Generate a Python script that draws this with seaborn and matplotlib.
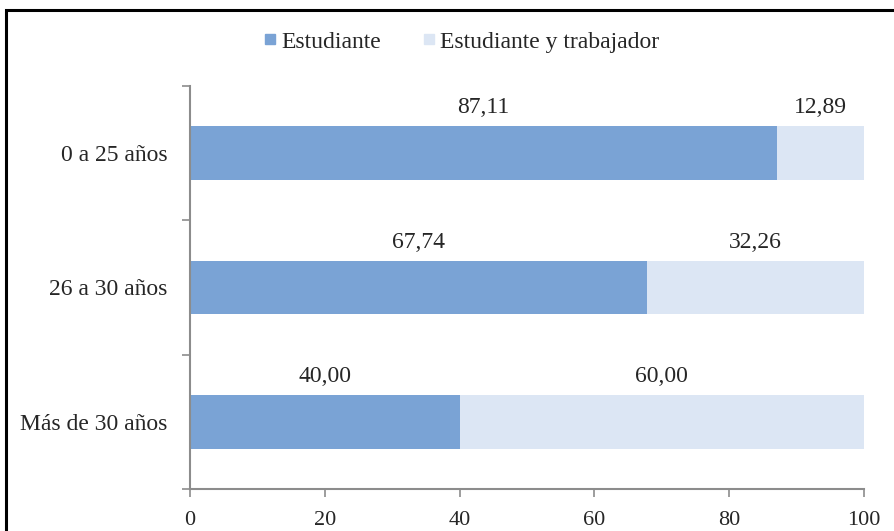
import numpy as np
import pandas as pd
import matplotlib
matplotlib.use('Agg')
import matplotlib.pyplot as plt
import seaborn as sns
from matplotlib.patches import Rectangle
from matplotlib.lines import Line2D

# data
grupos = ['0 a 25 años', '26 a 30 años', 'Más de 30 años']
estudiante = [87.11, 67.74, 40.00]
estudiante_trabajador = [12.89, 32.26, 60.00]

c_est = '#7aa3d5'
c_trab = '#dce6f4'

sns.set_style('white')
plt.rcParams['font.family'] = ['Liberation Serif', 'DejaVu Serif']
fs = 17

df = pd.DataFrame({'grupo': grupos, 'est': estudiante, 'trab': estudiante_trabajador})
df['total'] = df['est'] + df['trab']

fig = plt.figure(figsize=(8.95, 5.31), dpi=100)
ax = fig.add_axes([190 / 895, 1 - 489 / 531, 674 / 895, 403 / 531])

# stacked: total first (light), then student part on top
sns.barplot(data=df, x='total', y='grupo', orient='h', color=c_trab, width=0.4,
            saturation=1, ax=ax, linewidth=0)
sns.barplot(data=df, x='est', y='grupo', orient='h', color=c_est, width=0.4,
            saturation=1, ax=ax, linewidth=0)

# value labels above each segment
for i, (a, b) in enumerate(zip(estudiante, estudiante_trabajador)):
    ax.text(a / 2, i - 0.26, f'{a:.2f}'.replace('.', ','), ha='center', va='bottom', fontsize=fs)
    ax.text(a + b / 2, i - 0.26, f'{b:.2f}'.replace('.', ','), ha='center', va='bottom', fontsize=fs)

ax.set_xlim(0, 100)
ax.set_ylim(2.5, -0.5)
ax.set_xticks(np.arange(0, 101, 20))
ax.set_yticks([-0.5, 0.5, 1.5, 2.5])
ax.set_yticklabels([])
ax.set_yticks(range(len(grupos)), minor=True)
ax.set_yticklabels(grupos, minor=True)
ax.tick_params(axis='y', which='minor', left=False, length=0, pad=16, labelsize=fs)
ax.tick_params(axis='y', which='major', left=True, length=6, width=1.2, color='#8c8c8c', direction='out')
ax.tick_params(axis='x', bottom=True, length=6, width=1.2, color='#8c8c8c', direction='out',
               pad=10, labelsize=16)
ax.set_xlabel('')
ax.set_ylabel('')
for s in ['top', 'right']:
    ax.spines[s].set_visible(False)
for s in ['left', 'bottom']:
    ax.spines[s].set_color('#8c8c8c')
    ax.spines[s].set_linewidth(1.5)

handles = [Line2D([], [], marker='s', linestyle='none', markersize=7, color=c_est),
           Line2D([], [], marker='s', linestyle='none', markersize=7, color=c_trab)]
fig.legend(handles, ['Estudiante', 'Estudiante y trabajador'], loc='center',
           bbox_to_anchor=(460 / 895, 1 - 42 / 531), ncol=2, frameon=False, fontsize=fs,
           handletextpad=0.1, columnspacing=1.6, handlelength=0.8)

# outer frame
fig.patches.append(Rectangle((6 / 895, -0.1), 1.2, 1 - 10 / 531 + 0.1,
                             transform=fig.transFigure, fill=False,
                             edgecolor='black', linewidth=2.2))

fig.savefig('out.png', dpi=100)
